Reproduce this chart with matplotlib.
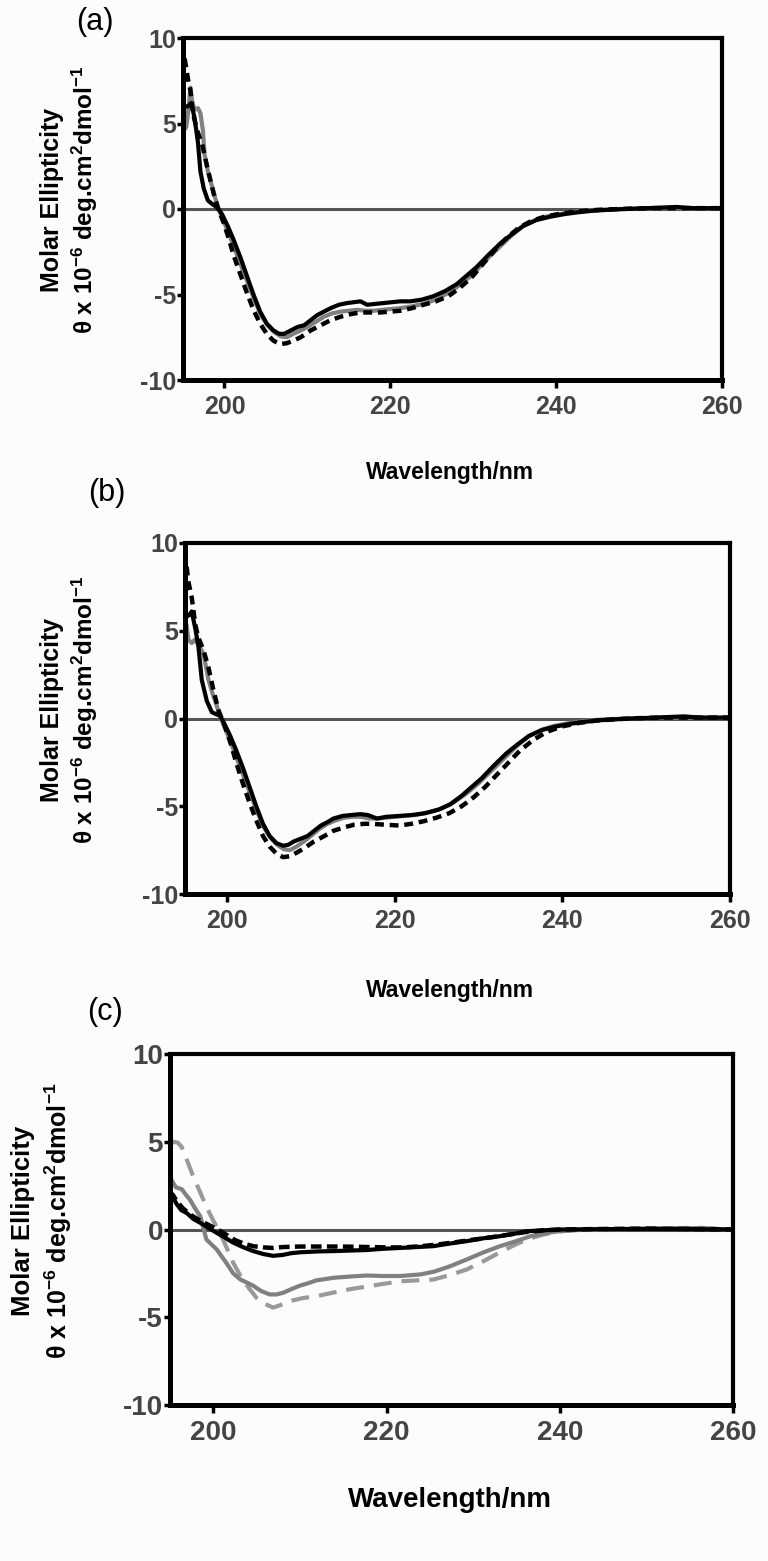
import numpy as np
import matplotlib
matplotlib.use("Agg")
import matplotlib.pyplot as plt

plt.rcParams['font.family'] = ['Liberation Sans', 'DejaVu Sans']
plt.rcParams['mathtext.fontset'] = 'custom'
plt.rcParams['mathtext.rm'] = 'Liberation Sans:bold'
plt.rcParams['mathtext.bf'] = 'Liberation Sans:bold'
plt.rcParams['mathtext.it'] = 'Liberation Sans:bold'
plt.rcParams['mathtext.default'] = 'bf'
plt.rcParams['axes.unicode_minus'] = False

# ---- panel (a) ----
a_black_x = [195.2, 195.6, 196.0, 196.4, 196.8, 197.1, 197.5, 198.0, 198.5, 199.1, 199.7, 200.4, 201.1,
             201.9, 202.7, 203.5, 204.3, 205.1, 205.9, 206.6, 207.2, 208.0, 208.8, 209.6, 210.4, 211.2,
             212.0, 212.8, 213.8, 214.8, 215.6, 216.4, 217.2, 218.2, 219.2, 220.2, 221.2, 222.4, 223.8,
             225.2, 226.6, 228.0, 229.2, 230.4, 231.8, 233.3, 234.6, 236.0, 237.6, 239.3, 241.0, 242.5,
             244.5, 247.3, 250.0, 252.5, 254.5, 256.5, 258.0, 260.0]
a_black_y = [6.0, 6.0, 6.2, 5.3, 3.9, 2.2, 1.2, 0.5, 0.3, 0.1, -0.3, -1.0, -1.8,
             -2.8, -3.9, -5.0, -6.0, -6.7, -7.1, -7.3, -7.3, -7.1, -6.9, -6.8, -6.5, -6.2,
             -6.0, -5.8, -5.6, -5.5, -5.45, -5.4, -5.6, -5.55, -5.5, -5.45, -5.4, -5.4, -5.3,
             -5.1, -4.8, -4.4, -3.9, -3.4, -2.7, -2.0, -1.5, -1.0, -0.65, -0.45, -0.3, -0.2,
             -0.1, -0.02, 0.03, 0.08, 0.12, 0.05, 0.05, 0.05]

a_gray_x = [195.1, 195.4, 195.7, 195.9, 196.1, 196.4, 196.8, 197.1, 197.4, 197.6, 198.0, 198.4, 198.8,
            199.2, 199.8, 200.5, 201.2, 202.0, 202.8, 203.6, 204.4, 205.2, 206.0, 206.8, 207.5, 208.3,
            209.2, 210.0, 211.0, 212.0, 213.0, 214.0, 215.0, 216.0, 217.0, 218.0, 219.0, 220.0, 221.2,
            222.5, 224.0, 225.5, 227.0, 228.5, 230.0, 231.5, 233.0, 234.5, 236.0, 237.5, 239.0, 241.0,
            243.0, 245.0, 248.0, 252.0, 256.0, 260.0]
a_gray_y = [4.6, 4.8, 6.0, 7.1, 6.3, 5.8, 5.9, 5.6, 4.6, 3.2, 2.2, 1.5, 0.8,
            0.1, -0.6, -1.4, -2.3, -3.3, -4.3, -5.3, -6.2, -6.8, -7.2, -7.45, -7.5, -7.3,
            -7.1, -6.9, -6.6, -6.3, -6.1, -6.0, -5.95, -5.9, -5.95, -5.95, -5.9, -5.85, -5.8,
            -5.7, -5.55, -5.3, -4.9, -4.4, -3.8, -3.0, -2.3, -1.6, -1.0, -0.65, -0.42, -0.25,
            -0.12, -0.05, 0.0, 0.05, 0.05, 0.05]

a_dash_x = [195.2, 195.4, 195.6, 195.9, 196.1, 196.3, 196.7, 197.3, 197.9, 198.7, 199.3, 199.9, 200.5,
            201.1, 201.9, 202.7, 203.5, 204.3, 205.1, 205.9, 206.7, 207.5, 208.3, 209.2, 210.4, 211.6,
            212.8, 214.0, 215.2, 216.4, 217.6, 218.8, 220.0, 221.2, 222.6, 224.0, 225.5, 227.0, 228.4,
            229.8, 231.2, 232.6, 234.0, 235.5, 237.0, 238.6, 240.2, 242.0, 244.0, 246.5, 249.0, 252.0,
            256.0, 260.0]
a_dash_y = [8.8, 8.2, 7.6, 6.9, 6.0, 5.4, 4.6, 3.8, 2.5, 0.9, -0.06, -0.8, -1.7,
            -2.7, -3.8, -4.9, -5.9, -6.7, -7.3, -7.7, -7.9, -7.85, -7.7, -7.5, -7.1, -6.8,
            -6.5, -6.3, -6.15, -6.05, -6.05, -6.05, -6.0, -5.95, -5.8, -5.6, -5.4, -5.1, -4.6,
            -4.0, -3.2, -2.4, -1.7, -1.1, -0.7, -0.45, -0.3, -0.18, -0.08, -0.02, 0.02, 0.05,
            0.05, 0.05]

# ---- panel (b) ----
b_black_x = [195.2, 195.5, 195.8, 196.2, 196.6, 197.0, 197.6, 198.2, 198.7, 199.2, 199.7, 200.4, 201.1,
             201.9, 202.7, 203.5, 204.3, 205.1, 205.9, 206.7, 207.3, 208.0, 208.8, 209.6, 210.4, 211.2,
             212.0, 212.7, 213.8, 214.8, 215.9, 216.8, 217.9, 219.0, 220.6, 222.0, 223.6, 225.2, 226.6,
             228.0, 229.2, 230.4, 231.8, 233.3, 234.6, 236.0, 237.6, 239.3, 241.0, 242.5, 244.5, 247.3,
             250.0, 252.5, 254.5, 256.5, 258.0, 260.0]
b_black_y = [5.8, 5.9, 6.1, 5.2, 4.1, 2.2, 1.0, 0.36, 0.25, 0.15, -0.3, -1.0, -1.8,
             -2.8, -3.9, -5.0, -6.0, -6.7, -7.1, -7.25, -7.2, -7.0, -6.85, -6.7, -6.4, -6.1,
             -5.9, -5.7, -5.55, -5.5, -5.45, -5.5, -5.7, -5.6, -5.55, -5.5, -5.4, -5.2, -4.9,
             -4.4, -3.9, -3.4, -2.7, -2.0, -1.5, -1.0, -0.65, -0.45, -0.3, -0.2, -0.1, -0.02,
             0.03, 0.08, 0.12, 0.05, 0.05, 0.05]

b_gray_x = [195.0, 195.2, 195.4, 195.8, 196.2, 196.6, 197.2, 197.8, 198.3, 198.6, 199.2, 199.8, 200.5,
            201.2, 202.0, 202.8, 203.6, 204.4, 205.2, 206.0, 206.8, 207.5, 208.3, 209.2, 210.0, 211.0,
            212.0, 213.0, 214.0, 215.0, 216.0, 217.0, 218.0, 219.0, 220.0, 221.2, 222.5, 224.0, 225.5,
            227.0, 228.5, 230.0, 231.5, 233.0, 234.5, 236.0, 237.5, 239.0, 241.0, 243.0, 245.0, 248.0,
            252.0, 256.0, 260.0]
b_gray_y = [5.6, 5.3, 4.5, 4.3, 4.5, 4.2, 3.7, 2.2, 1.4, 1.0, 0.1, -0.6, -1.4,
            -2.3, -3.3, -4.3, -5.3, -6.2, -6.8, -7.2, -7.45, -7.5, -7.3, -7.0, -6.7, -6.3,
            -6.0, -5.8, -5.65, -5.6, -5.6, -5.7, -5.7, -5.65, -5.6, -5.55, -5.5, -5.35, -5.15,
            -4.8, -4.3, -3.7, -3.0, -2.3, -1.6, -1.0, -0.65, -0.42, -0.25, -0.12, -0.05, 0.0,
            0.05, 0.05, 0.05]

b_dash_x = [195.2, 195.4, 195.8, 196.0, 196.2, 196.6, 197.2, 197.8, 198.4, 199.0, 199.8, 200.5, 201.1,
            201.9, 202.7, 203.5, 204.3, 205.1, 205.9, 206.7, 207.5, 208.3, 209.2, 210.4, 211.6, 212.7,
            214.0, 215.2, 216.4, 217.2, 218.8, 220.6, 222.0, 223.5, 225.0, 226.5, 228.0, 229.4, 230.8,
            232.2, 233.6, 235.0, 236.6, 238.2, 240.0, 242.0, 244.0, 246.5, 249.0, 252.0, 256.0, 260.0]
b_dash_y = [8.65, 7.8, 6.9, 6.2, 5.4, 4.6, 3.9, 2.9, 1.6, 0.46, -0.5, -1.5, -2.5,
            -3.7, -4.8, -5.8, -6.7, -7.3, -7.7, -7.9, -7.85, -7.65, -7.4, -7.0, -6.7, -6.4,
            -6.2, -6.05, -6.0, -6.0, -6.05, -6.1, -6.0, -5.85, -5.65, -5.4, -5.0, -4.5, -3.9,
            -3.2, -2.5, -1.8, -1.2, -0.75, -0.45, -0.25, -0.12, -0.04, 0.02, 0.05, 0.05, 0.05]

# ---- panel (c) ----
c_black_x = [195.0, 195.3, 195.7, 196.3, 196.9, 197.7, 198.5, 199.4, 200.4, 201.3, 202.3, 203.4, 204.6,
             205.8, 206.9, 208.0, 209.0, 210.0, 212.0, 213.9, 215.8, 217.7, 219.6, 221.6, 223.5, 225.4,
             227.3, 229.3, 231.2, 233.1, 234.7, 236.2, 238.0, 240.0, 245.0, 250.0, 255.0, 260.0]
c_black_y = [1.7, 1.9, 1.5, 1.1, 0.95, 0.6, 0.38, 0.1, -0.19, -0.45, -0.75, -1.0, -1.23,
             -1.4, -1.5, -1.45, -1.35, -1.3, -1.25, -1.23, -1.2, -1.17, -1.1, -1.05, -1.0, -0.95,
             -0.8, -0.66, -0.5, -0.38, -0.25, -0.1, -0.05, 0.0, 0.02, 0.03, 0.02, 0.0]

c_dash_x = [195.0, 195.3, 195.8, 196.5, 197.5, 198.5, 199.5, 200.5, 201.5, 202.5, 203.5, 204.6, 205.8,
            206.9, 208.0, 210.0, 212.0, 214.0, 216.0, 218.0, 220.0, 222.0, 224.0, 226.0, 228.0, 230.0,
            232.0, 234.0, 236.0, 238.0, 240.0, 245.0, 250.0, 255.0, 260.0]
c_dash_y = [1.8, 2.0, 1.6, 1.2, 0.8, 0.5, 0.25, 0.0, -0.3, -0.6, -0.8, -0.95, -1.02,
            -1.05, -1.0, -0.97, -0.97, -0.97, -0.98, -1.0, -1.02, -1.02, -0.95, -0.85, -0.72, -0.58,
            -0.45, -0.3, -0.15, -0.05, 0.0, 0.03, 0.05, 0.03, 0.0]

c_gray_x = [195.0, 195.3, 195.7, 196.35, 196.8, 197.3, 197.9, 198.5, 199.2, 200.4, 201.5, 202.3, 203.1,
            204.6, 205.5, 206.5, 207.3, 208.1, 209.0, 210.0, 211.0, 211.9, 213.9, 215.8, 217.7, 219.6,
            221.6, 223.9, 225.5, 227.3, 229.3, 231.2, 233.1, 235.0, 236.5, 238.0, 240.0, 242.0, 245.0,
            250.0, 255.0, 260.0]
c_gray_y = [3.0, 2.7, 2.4, 2.3, 2.0, 1.7, 1.2, 0.75, -0.57, -1.14, -1.9, -2.5, -2.84,
            -3.2, -3.5, -3.7, -3.7, -3.6, -3.4, -3.2, -3.05, -2.9, -2.75, -2.68, -2.62, -2.65,
            -2.65, -2.56, -2.4, -2.1, -1.7, -1.3, -0.95, -0.66, -0.4, -0.22, -0.1, -0.03, 0.0,
            0.05, 0.08, 0.0]

c_graydash_x = [195.0, 195.4, 195.9, 196.35, 197.0, 197.7, 198.5, 199.2, 200.0, 200.8, 201.5, 202.3,
                203.2, 204.2, 205.0, 205.8, 206.9, 207.8, 208.9, 210.4, 211.9, 213.8, 215.8, 217.7,
                219.6, 221.6, 223.5, 225.4, 227.3, 229.3, 231.2, 233.1, 234.7, 236.2, 238.0, 240.0,
                242.0, 244.6, 250.0, 256.2, 260.0]
c_graydash_y = [4.8, 5.0, 4.95, 4.7, 3.9, 3.0, 2.1, 1.3, 0.5, -0.2, -1.0, -1.9,
                -2.7, -3.4, -3.9, -4.2, -4.45, -4.3, -4.07, -3.9, -3.8, -3.6, -3.4, -3.25,
                -3.1, -2.95, -2.9, -2.85, -2.6, -2.27, -1.8, -1.3, -0.9, -0.57, -0.3, -0.1,
                -0.02, 0.0, 0.05, 0.1, 0.0]

x_ticks = [200, 220, 240, 260]
y_ticks = [-10, -5, 0, 5, 10]

W, H = 768, 1561
fig = plt.figure(figsize=(W / 100, H / 100), dpi=100)
fig.patch.set_facecolor('#fcfcfc')


def px_axes(l, t, r, b):
    return fig.add_axes([l / W, 1 - b / H, (r - l) / W, (b - t) / H])


def style_axes(ax, fs):
    ax.set_facecolor('#fcfcfc')
    ax.set_xlim(195, 260)
    ax.set_ylim(-10, 10)
    ax.set_xticks(x_ticks)
    ax.set_yticks(y_ticks)
    ax.axhline(0, color='#555555', lw=2.2, zorder=1)
    for s in ['left', 'bottom']:
        ax.spines[s].set_linewidth(3.6)
    for s in ['top', 'right']:
        ax.spines[s].set_linewidth(3.0)
    ax.tick_params(axis='x', direction='out', length=6, width=2.5, pad=5,
                   labelsize=fs, labelcolor='#444444')
    ax.tick_params(axis='y', direction='out', length=4, width=2.5, pad=1,
                   labelsize=fs, labelcolor='#444444')
    for lab in ax.get_xticklabels() + ax.get_yticklabels():
        lab.set_fontweight('bold')


def labels(tag, tag_xy, yl1_x, yl2_x, yl_y, xl_xy, fs, xfs):
    fig.text(tag_xy[0] / W, 1 - tag_xy[1] / H, tag, fontsize=22, ha='center', va='center')
    fig.text(yl1_x / W, 1 - yl_y / H, 'Molar Ellipticity', rotation=90, fontsize=fs,
             fontweight='bold', ha='center', va='center')
    fig.text(yl2_x / W, 1 - yl_y / H, 'θ x 10$^{-6}$ deg.cm$^{2}$dmol$^{-1}$', rotation=90,
             fontsize=fs - 0.5, fontweight='bold', ha='center', va='center')
    fig.text(xl_xy[0] / W, 1 - xl_xy[1] / H, 'Wavelength/nm', fontsize=xfs,
             fontweight='bold', ha='center', va='center')


# (a)
ax = px_axes(183, 38, 722, 380)
style_axes(ax, 18)
ax.plot(a_gray_x, a_gray_y, color='#808080', lw=3.0, zorder=2)
ax.plot(a_dash_x, a_dash_y, color='black', lw=3.2, dashes=(2.0, 1.3), zorder=3)
ax.plot(a_black_x, a_black_y, color='black', lw=3.0, zorder=4)
labels('(a)', (95, 22), 52, 85, 200, (450, 473), 18, 16.5)

# (b)
ax = px_axes(185, 543, 730, 894)
style_axes(ax, 18)
ax.plot(b_gray_x, b_gray_y, color='#808080', lw=3.0, zorder=2)
ax.plot(b_dash_x, b_dash_y, color='black', lw=3.2, dashes=(2.0, 1.3), zorder=3)
ax.plot(b_black_x, b_black_y, color='black', lw=3.0, zorder=4)
labels('(b)', (107, 493), 52, 85, 710, (450, 990), 18, 16.5)

# (c)
ax = px_axes(170, 1054, 733, 1405)
style_axes(ax, 20)
ax.plot(c_graydash_x, c_graydash_y, color='#999999', lw=3.0, dashes=(4.3, 2.4), zorder=2)
ax.plot(c_gray_x, c_gray_y, color='#808080', lw=3.0, zorder=2)
ax.plot(c_dash_x, c_dash_y, color='black', lw=3.2, dashes=(2.4, 1.2), zorder=3)
ax.plot(c_black_x, c_black_y, color='black', lw=3.0, zorder=4)
labels('(c)', (105, 1012), 23, 58, 1221, (450, 1500), 18.5, 20)

fig.savefig('out.png', dpi=100, facecolor=fig.get_facecolor())
